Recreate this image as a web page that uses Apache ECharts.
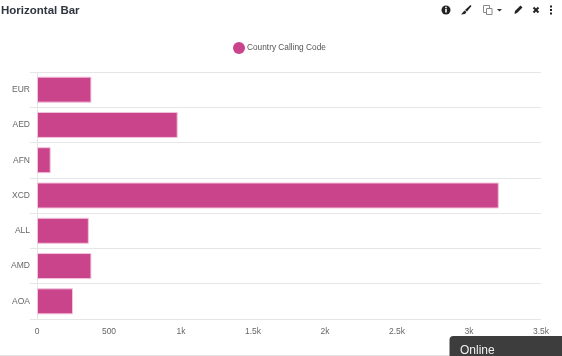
<!DOCTYPE html>
<html>
<head>
<meta charset="utf-8">
<title>Horizontal Bar</title>
<script src="https://cdn.jsdelivr.net/npm/echarts@6/dist/echarts.min.js"></script>
<style>
  html, body { margin: 0; padding: 0; background: #fff; }
  #chart { width: 562px; height: 356px; }
</style>
</head>
<body>
<div id="chart"></div>
<script>
const categories = ['EUR', 'AED', 'AFN', 'XCD', 'ALL', 'AMD', 'AOA'];
const callingCodes = [378, 977, 95, 3207, 360, 378, 250];
const seriesName = 'Country Calling Code';
const fontFamily = '"Liberation Sans", Arial, sans-serif';

const chart = echarts.init(document.getElementById('chart'));

// toolbar icons, drawn by hand
const toolbar = {
  type: 'group',
  y: 1,
  children: [
    { type: 'circle', shape: { cx: 446, cy: 9, r: 4.5 }, style: { fill: '#222' } },
    { type: 'rect', shape: { x: 445.2, y: 7.8, width: 1.6, height: 3.6 }, style: { fill: '#fff' } },
    { type: 'rect', shape: { x: 445.2, y: 5.8, width: 1.6, height: 1.3 }, style: { fill: '#fff' } },
    { type: 'polygon', shape: { points: [[470.5, 4], [471.5, 5], [467, 10.5], [465, 9]] }, style: { fill: '#222' } },
    { type: 'polygon', shape: { points: [[464.5, 9.5], [466.5, 11], [465, 13], [461, 13.5]] }, style: { fill: '#222' } },
    { type: 'rect', shape: { x: 483.5, y: 4.5, width: 6, height: 7 }, style: { fill: '#fff', stroke: '#888', lineWidth: 1 } },
    { type: 'rect', shape: { x: 486.5, y: 7.5, width: 5.5, height: 6 }, style: { fill: '#fff', stroke: '#888', lineWidth: 1 } },
    { type: 'polygon', shape: { points: [[497, 8], [502, 8], [499.5, 10.5]] }, style: { fill: '#333' } },
    { type: 'polygon', shape: { points: [[520.5, 4.5], [522.5, 6.5], [517, 12], [514.5, 13], [515, 10]] }, style: { fill: '#222' } },
    { type: 'line', shape: { x1: 533.5, y1: 6.5, x2: 538.5, y2: 11.5 }, style: { stroke: '#222', lineWidth: 2 } },
    { type: 'line', shape: { x1: 538.5, y1: 6.5, x2: 533.5, y2: 11.5 }, style: { stroke: '#222', lineWidth: 2 } },
    { type: 'rect', shape: { x: 550, y: 4.5, width: 2, height: 2 }, style: { fill: '#222' } },
    { type: 'rect', shape: { x: 550, y: 8, width: 2, height: 2 }, style: { fill: '#222' } },
    { type: 'rect', shape: { x: 550, y: 11.5, width: 2, height: 2 }, style: { fill: '#222' } }
  ]
};

const option = {
  animation: false,
  title: {
    text: 'Horizontal Bar',
    left: 1,
    top: 5,
    padding: 0,
    textStyle: { color: '#2f3640', fontSize: 11.5, fontWeight: 'bold', fontFamily }
  },
  legend: {
    data: [seriesName],
    top: 37,
    left: 228,
    icon: 'circle',
    itemWidth: 12,
    itemHeight: 12,
    itemStyle: { borderWidth: 0 },
    textStyle: { color: '#555', fontSize: 8.3, fontFamily, padding: [0, 0, 0, -3] }
  },
  grid: { left: 37, right: 21, top: 72, bottom: 37 },
  xAxis: {
    type: 'value',
    min: 0,
    max: 3500,
    interval: 500,
    axisLine: { show: false },
    axisTick: { show: false },
    splitLine: { show: false },
    axisLabel: {
      color: '#666',
      fontSize: 8.5,
      fontFamily,
      margin: 8,
      formatter: (v) => (v >= 1000 ? v / 1000 + 'k' : v)
    }
  },
  yAxis: {
    type: 'category',
    inverse: true,
    data: categories,
    axisLine: { show: true, lineStyle: { color: '#e6e6e6' } },
    axisTick: { show: true, length: 7, lineStyle: { color: '#e6e6e6' } },
    splitLine: { show: true, lineStyle: { color: '#e6e6e6' } },
    axisLabel: { color: '#666', fontSize: 8.5, fontFamily, margin: 7, padding: [3, 0, 0, 0] }
  },
  series: [
    {
      name: seriesName,
      type: 'bar',
      data: callingCodes,
      barWidth: 26,
      itemStyle: { color: '#c9448a', borderColor: '#f3c3dc', borderWidth: 1 },
      emphasis: { disabled: true }
    }
  ],
  graphic: [
    toolbar,
    { type: 'rect', shape: { x: 0, y: 355, width: 450, height: 1 }, style: { fill: '#e4e4e4' } },
    { type: 'rect', shape: { x: 449.5, y: 336, width: 113, height: 20, r: [4, 0, 0, 0] }, style: { fill: '#3d3d3d' } },
    {
      type: 'text',
      x: 460,
      y: 345,
      style: { text: 'Online', fill: '#f2f2f2', fontSize: 12, fontFamily }
    }
  ]
};

chart.setOption(option);
</script>
</body>
</html>
